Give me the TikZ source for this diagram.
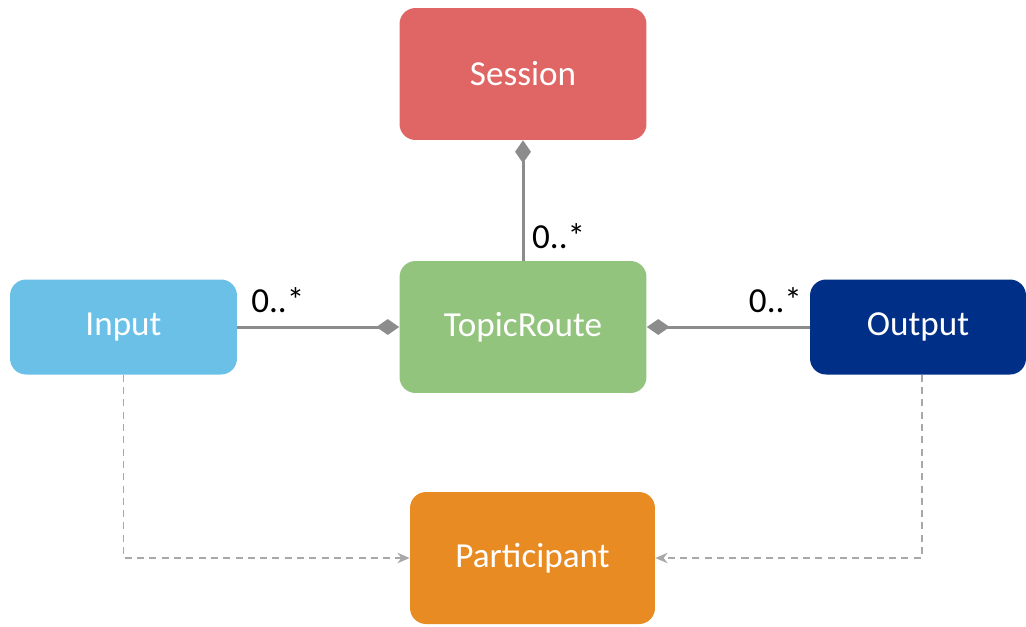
\documentclass[tikz,border=0pt]{standalone}
\usepackage{fontspec}
\setmainfont{Carlito}
\usetikzlibrary{arrows.meta}
\definecolor{sessionred}{HTML}{E06666}
\definecolor{routegreen}{HTML}{93C47D}
\definecolor{inputblue}{HTML}{6BC0E8}
\definecolor{outputblue}{HTML}{002F87}
\definecolor{partorange}{HTML}{E98B23}
\definecolor{linegray}{HTML}{8C8C8C}
\definecolor{dashgray}{HTML}{A8A8A8}
\begin{document}
\begin{tikzpicture}[x=0.02cm,y=-0.02cm,font=\fontsize{20}{24}\selectfont,
    box/.style={rounded corners=0.32cm,text=white,inner sep=0pt},
    comp/.style={draw=linegray,line width=1.7pt,-{Diamond[length=13pt,width=9pt,fill=linegray]}},
    uses/.style={draw=dashgray,line width=0.8pt,dash pattern=on 4pt off 3pt,-{Stealth[length=7pt,width=6pt]}}]
    \useasboundingbox (0,0) rectangle (1026,626);
    \path
    % Session and route
    (523,74)  node[box,fill=sessionred,minimum width=4.94cm,minimum height=2.64cm] (session) {Session}
    (523,327) node[box,fill=routegreen,minimum width=4.94cm,minimum height=2.64cm] (route) {TopicRoute}

    % Input and output
    (123.5,327) node[box,fill=inputblue,minimum width=4.54cm,minimum height=1.9cm] (input) {Input}
    (918,327)   node[box,fill=outputblue,minimum width=4.32cm,minimum height=1.9cm] (output) {Output}

    % Participant
    (532.5,558) node[box,fill=partorange,minimum width=4.9cm,minimum height=2.64cm] (participant) {Participant};

    % Link the different parts of the graph
    \draw[comp] (route)--(session) node[pos=.2,right=1pt]{0..*};
    \draw[comp] (input)--(route) node[pos=.25,above=4pt]{0..*};
    \draw[comp] (output)--(route) node[pos=.21,above=4pt]{0..*};
    \draw[uses] (input.south)|-(participant.west);
    \draw[uses] ([xshift=0.08cm]output.south)|-(participant.east);
\end{tikzpicture}
\end{document}
